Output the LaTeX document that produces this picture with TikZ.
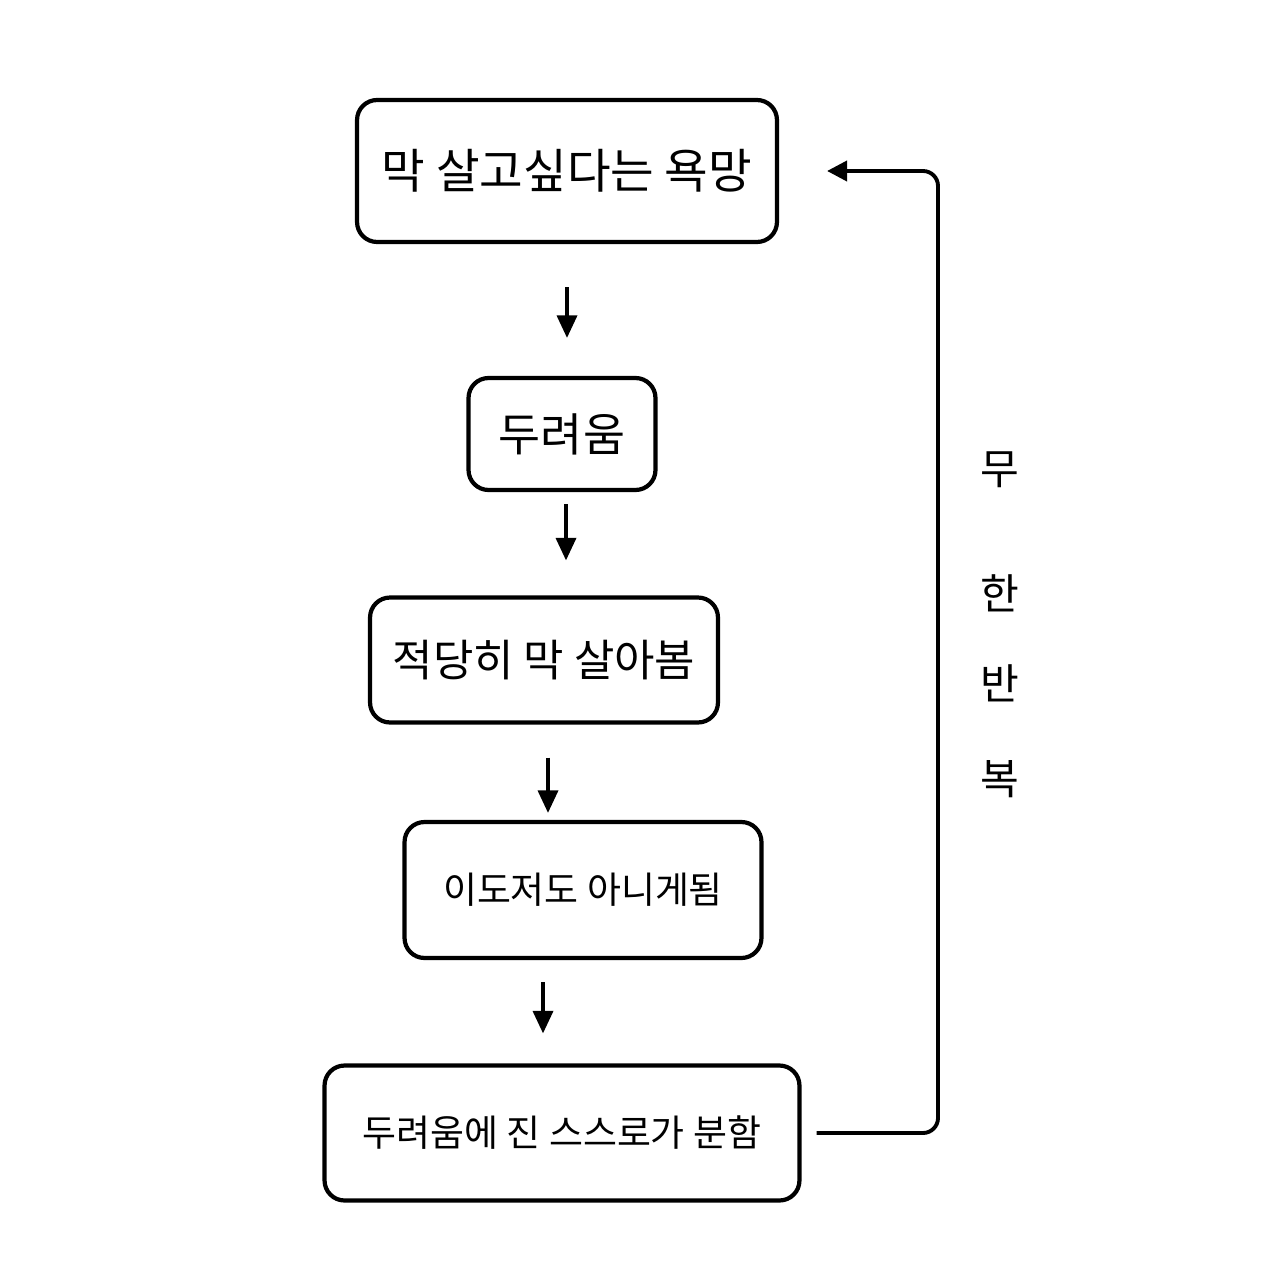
\documentclass[tikz,border=0pt]{standalone}
\usepackage{fontspec}
\newfontfamily\kr{Noto Sans CJK KR}
\usetikzlibrary{arrows.meta}

\newcommand{\krsize}[1]{\kr\fontsize{#1}{#1}\selectfont}

\begin{document}
\begin{tikzpicture}[
    x=0.02cm, y=-0.02cm,
    stage/.style={draw, line width=2.4pt, rounded corners=0.4cm, font=\krsize{21}, inner sep=0pt},
    flow/.style={-{Triangle[length=0.45cm, width=0.4cm]}, line width=2pt},
    loopline/.style={-{Triangle[length=0.4cm, width=0.4cm]}, line width=2.2pt, rounded corners=0.3cm},
    label/.style={font=\kr\fontsize{24}{29}\selectfont, align=center},
]
\useasboundingbox[fill=white] (0,0) rectangle (1280,1280);

% Stages from top to bottom
\node[stage, font=\krsize{27}, minimum width=8.4cm, minimum height=2.84cm] (want) at (567,171) {막 살고싶다는 욕망};
\node[stage, font=\krsize{26}, minimum width=3.74cm, minimum height=2.24cm] (fear) at (562,434) {두려움};
\node[stage, font=\krsize{25}, minimum width=6.96cm, minimum height=2.5cm] (try) at (544,660) {적당히 막 살아봄};
\node[stage, minimum width=7.14cm, minimum height=2.72cm] (neither) at (583,890) {이도저도 아니게됨};
\node[stage, minimum width=9.5cm, minimum height=2.7cm] (angry) at (562,1133) {두려움에 진 스스로가 분함};

% Short arrows between stages
\draw[flow, shorten <=0.86cm, shorten >=0.76cm] (want.south) -- (want.south |- fear.north);
\draw[flow, shorten <=0.24cm, shorten >=0.7cm] ([xshift=0.08cm]fear.south) -- ([xshift=0.08cm]fear.south |- try.north);
\draw[flow, shorten <=0.66cm, shorten >=0.14cm] ([xshift=0.08cm]try.south) -- ([xshift=0.08cm]try.south |- neither.north);
\draw[flow, shorten <=0.44cm, shorten >=0.6cm] ([xshift=-0.8cm]neither.south) -- ([xshift=-0.8cm]neither.south |- angry.north);

% Loop back to the top
\coordinate (turn) at (938,640);
\draw[loopline, shorten <=0.3cm, shorten >=0.96cm] (angry.east) -| (turn |- want.east) -- (want.east);
\node[label] (repeat) at (1000,625) {무\\[1.48cm]한\\[0.78cm]반\\[0.88cm]복};

\end{tikzpicture}
\end{document}
